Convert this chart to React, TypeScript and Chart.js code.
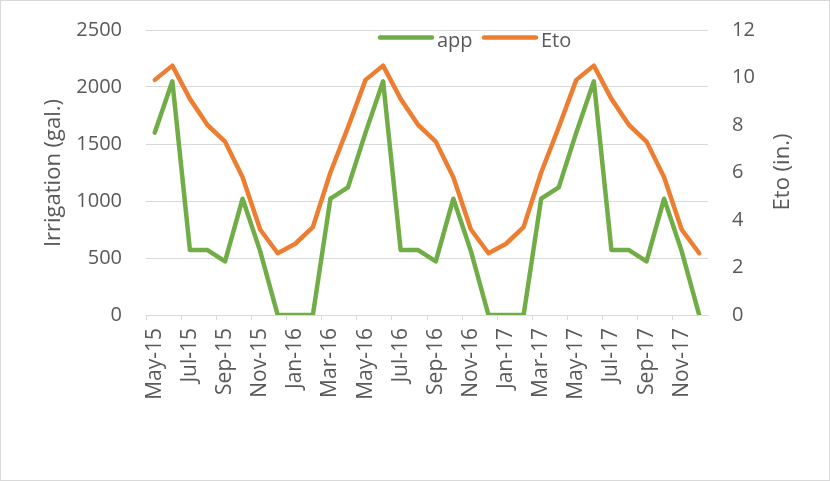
import React, { useEffect, useRef } from "react";
import { Chart, registerables } from "chart.js";

Chart.register(...registerables);

const months: string[] = [
  "May-15", "Jun-15", "Jul-15", "Aug-15", "Sep-15", "Oct-15", "Nov-15", "Dec-15",
  "Jan-16", "Feb-16", "Mar-16", "Apr-16", "May-16", "Jun-16", "Jul-16", "Aug-16",
  "Sep-16", "Oct-16", "Nov-16", "Dec-16", "Jan-17", "Feb-17", "Mar-17", "Apr-17",
  "May-17", "Jun-17", "Jul-17", "Aug-17", "Sep-17", "Oct-17", "Nov-17", "Dec-17",
];

const appValues: number[] = [
  1600, 2050, 570, 570, 470, 1020, 560, 0,
  0, 0, 1020, 1120, 1600, 2050, 570, 570,
  470, 1020, 560, 0, 0, 0, 1020, 1120,
  1600, 2050, 570, 570, 470, 1020, 560, 0,
];

const etoValues: number[] = [
  9.9, 10.5, 9.1, 8.0, 7.3, 5.8, 3.6, 2.6,
  3.0, 3.7, 6.0, 7.9, 9.9, 10.5, 9.1, 8.0,
  7.3, 5.8, 3.6, 2.6, 3.0, 3.7, 6.0, 7.9,
  9.9, 10.5, 9.1, 8.0, 7.3, 5.8, 3.6, 2.6,
];

const seriesNames: string[] = ["app", "Eto"];
const axisTitles: string[] = ["Irrigation (gal.)", "Eto (in.)"];

const GREEN = "#70ad47";
const ORANGE = "#ed7d31";
const TEXT = "#595959";
const GRID = "#d9d9d9";
const FONT = "'Open Sans', 'Liberation Sans', sans-serif";

const decorPlugin = {
  id: "decor",
  afterDraw(chart: any) {
    const ctx = chart.ctx as CanvasRenderingContext2D;
    ctx.save();
    ctx.fillStyle = TEXT;
    ctx.font = `22px ${FONT}`;
    ctx.textAlign = "center";
    ctx.textBaseline = "middle";
    ctx.save();
    ctx.translate(54, 173);
    ctx.rotate(-Math.PI / 2);
    ctx.fillText(axisTitles[0], 0, 0);
    ctx.restore();
    ctx.save();
    ctx.translate(783, 172);
    ctx.rotate(-Math.PI / 2);
    ctx.fillText(axisTitles[1], 0, 0);
    ctx.restore();
    const items = [
      { x: 378, color: GREEN, label: seriesNames[0] },
      { x: 482, color: ORANGE, label: seriesNames[1] },
    ];
    ctx.font = `20px ${FONT}`;
    ctx.textAlign = "left";
    ctx.textBaseline = "alphabetic";
    for (const it of items) {
      ctx.beginPath();
      ctx.strokeStyle = it.color;
      ctx.lineWidth = 4.5;
      ctx.lineCap = "round";
      ctx.moveTo(it.x + 2, 37.5);
      ctx.lineTo(it.x + 54, 37.5);
      ctx.stroke();
      ctx.fillStyle = TEXT;
      ctx.fillText(it.label, it.x + 59, 46.5);
    }
    ctx.restore();
  },
};

export default function App() {
  const ref = useRef<HTMLCanvasElement | null>(null);

  useEffect(() => {
    if (!ref.current) return;
    const chart = new Chart(ref.current, {
      type: "line",
      data: {
        labels: months,
        datasets: [
          {
            label: seriesNames[0],
            data: appValues,
            borderColor: GREEN,
            backgroundColor: GREEN,
            borderWidth: 4.5,
            pointRadius: 0,
            tension: 0,
            borderJoinStyle: "round",
            borderCapStyle: "round",
            yAxisID: "y",
            order: 2,
          },
          {
            label: seriesNames[1],
            data: etoValues,
            borderColor: ORANGE,
            backgroundColor: ORANGE,
            borderWidth: 4.5,
            pointRadius: 0,
            tension: 0,
            borderJoinStyle: "round",
            borderCapStyle: "round",
            yAxisID: "y1",
            order: 1,
          },
        ],
      },
      options: {
        animation: false,
        responsive: false,
        maintainAspectRatio: false,
        layout: { padding: { top: 30, left: 0, right: 0, bottom: 0 } },
        plugins: {
          legend: { display: false },
          tooltip: { enabled: false },
        },
        scales: {
          x: {
            offset: true,
            afterFit: (s: any) => {
              s.height = 166;
              s.paddingLeft = 0;
              s.paddingRight = 0;
            },
            grid: {
              offset: true,
              drawOnChartArea: false,
              drawTicks: true,
              tickLength: 5,
              color: (c: any) => (c.index % 2 === 0 ? GRID : "rgba(0,0,0,0)"),
            },
            border: { display: true, color: GRID, width: 1 },
            ticks: {
              autoSkip: false,
              maxRotation: 90,
              minRotation: 90,
              padding: 8,
              color: TEXT,
              font: { family: FONT, size: 21 },
              callback: function (this: any, value: any, index: number) {
                return index % 2 === 0 ? months[index] : "";
              },
            },
          },
          y: {
            position: "left",
            min: 0,
            max: 2500,
            afterFit: (s: any) => {
              s.width = 146;
              s.paddingTop = 0;
              s.paddingBottom = 0;
            },
            grid: { color: GRID, lineWidth: 1, drawTicks: false },
            border: { display: false },
            ticks: {
              stepSize: 500,
              padding: 24,
              color: TEXT,
              font: { family: FONT, size: 20 },
              callback: (v: any) => String(v),
            },
          },
          y1: {
            position: "right",
            min: 0,
            max: 12,
            afterFit: (s: any) => {
              s.width = 122;
              s.paddingTop = 0;
              s.paddingBottom = 0;
            },
            grid: { drawOnChartArea: false, drawTicks: false },
            border: { display: false },
            ticks: {
              stepSize: 2,
              padding: 24,
              color: TEXT,
              font: { family: FONT, size: 20 },
              callback: (v: any) => String(v),
            },
          },
        },
      },
      plugins: [decorPlugin],
    });
    return () => chart.destroy();
  }, []);

  return (
    <div style={{ position: "fixed", left: 0, top: 0, width: 830, height: 481, background: "#fff" }}>
      <div
        style={{
          position: "absolute",
          left: 0,
          top: 0,
          width: 830,
          height: 481,
          boxSizing: "border-box",
          border: `1px solid ${GRID}`,
        }}
      />
      <canvas ref={ref} width={830} height={481} style={{ position: "absolute", left: 0, top: 0 }} />
    </div>
  );
}
